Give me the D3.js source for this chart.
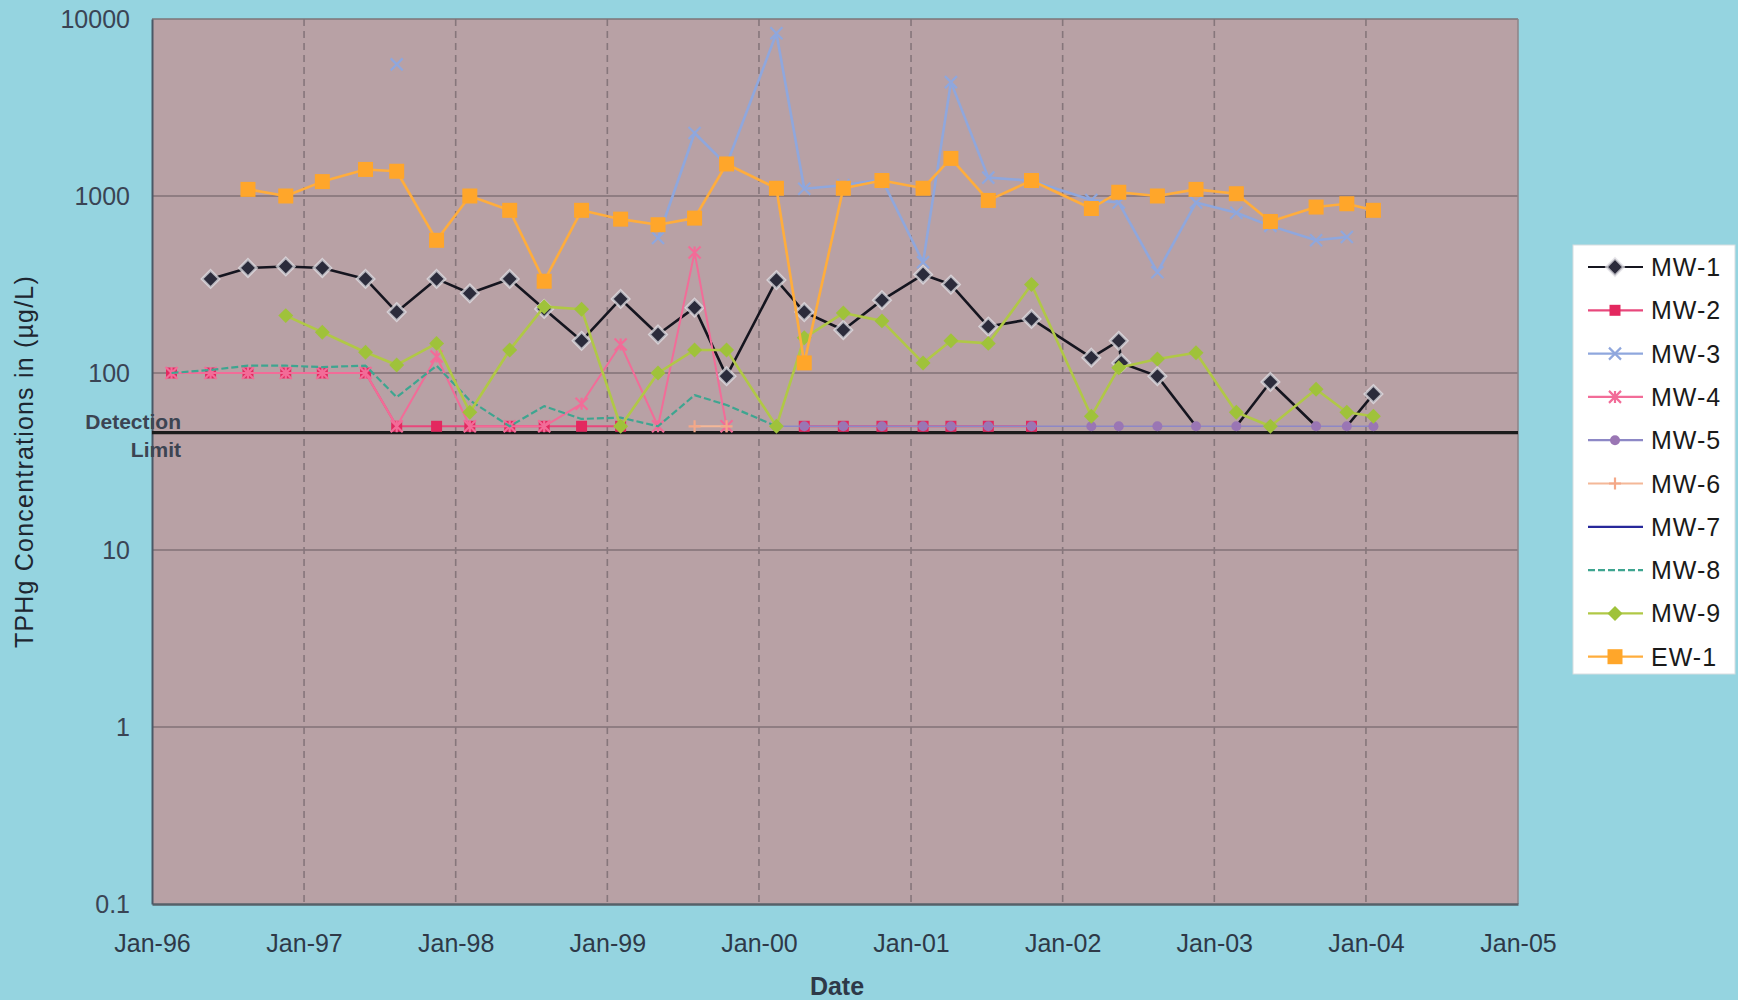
<!DOCTYPE html>
<html>
<head>
<meta charset="utf-8">
<script src="https://cdn.jsdelivr.net/npm/d3@7"></script>
<style>
	body { margin: 0; background: #95d4e0; }
	svg { display: block; font-family: "Liberation Sans", Arial, Helvetica, sans-serif; }
</style>
</head>
<body>
<svg id="chart" width="1738" height="1000"></svg>
<script>
// sampling dates (one column per monitoring event)
var sampleDates = [
	"1996-02-17", "1996-05-21", "1996-08-19", "1996-11-18", "1997-02-14", "1997-05-29",
	"1997-08-12", "1997-11-16", "1998-02-04", "1998-05-11", "1998-08-02", "1998-10-31",
	"1999-02-02", "1999-05-03", "1999-07-30", "1999-10-15", "2000-02-12", "2000-04-19",
	"2000-07-22", "2000-10-23", "2001-01-30", "2001-04-07", "2001-07-06", "2001-10-18",
	"2002-03-11", "2002-05-16", "2002-05-22", "2002-08-17", "2002-11-18", "2003-02-23",
	"2003-05-16", "2003-09-03", "2003-11-16", "2004-01-19"
];

// TPHg in ug/L, null = not sampled; 50 = non-detect
var mw1 = [null, 340, 392, 400, 392, 340, 221, 340, 282, 340, 230, 152, 262, 165, 234, 96, 335, 221,
	175, 258, 360, 316, 183, 202, 122, 152, 114, 96, 50, 50, 89, 50, 50, 76];
var mw2 = [100, 100, 100, 100, 100, 100, 50, 50, 50, 50, 50, 50, 50, null, null, null, null, 50,
	50, 50, 50, 50, 50, 50, null, null, null, null, null, null, null, null, null, null];
var mw3 = [null, null, null, null, null, null, 5540, null, null, null, null, null, null, 579, 2270, 1500, 8300, 1100,
	1150, 1240, 422, 4400, 1270, 1220, 950, 918, null, 371, 918, 805, 678, 562, 587, null];
var mw4 = [100, 100, 100, 100, 100, 100, 50, 124, 50, 50, 50, 67, 145, 50, 480, 50, null, null,
	null, null, null, null, null, null, null, null, null, null, null, null, null, null, null, null];
var mw5 = [null, null, null, null, null, null, null, null, null, null, null, null, null, null, null, null, 50, 50,
	50, 50, 50, 50, 50, 50, 50, 50, null, 50, 50, 50, 50, 50, 50, 50];
var mw6 = [null, null, null, null, null, null, null, null, null, null, null, null, null, null, 50, 50, null, null,
	null, null, null, null, null, null, null, null, null, null, null, null, null, null, null, null];
var mw7 = [null, null, null, null, null, null, null, null, null, null, null, null, null, null, null, null, null, null,
	null, null, null, null, null, null, null, null, null, null, null, null, null, null, null, null];
var mw8 = [100, 104, 110, 110, 108, 110, 73, 110, 70, 50, 65, 55, 56, 50, 75, 66, 50, null,
	null, null, null, null, null, null, null, null, null, null, null, null, null, null, null, null];
var mw9 = [null, null, null, 211, 170, 131, 111, 147, 60, 135, 237, 229, 50, 100, 135, 135, 50, 158,
	218, 197, 114, 152, 147, 316, 57, 107, null, 120, 130, 60, 50, 81, 60, 57];
var ew1 = [null, null, 1090, 1000, 1206, 1413, 1380, 562, 1000, 830, 330, 830, 740, 688, 750, 1517, 1106, 114,
	1106, 1223, 1106, 1631, 944, 1223, 850, 1050, null, 1000, 1090, 1030, 718, 866, 904, 830];

var seriesNames = ["MW-1", "MW-2", "MW-3", "MW-4", "MW-5", "MW-6", "MW-7", "MW-8", "MW-9", "EW-1"];
var seriesValues = [mw1, mw2, mw3, mw4, mw5, mw6, mw7, mw8, mw9, ew1];

var yTicks = [0.1, 1, 10, 100, 1000, 10000];
var xTickYears = [1996, 1997, 1998, 1999, 2000, 2001, 2002, 2003, 2004, 2005];
var detectionLimit = 46;
var ndValue = 50;
var maxGap = 3; // more missing events than this breaks the line

// look of each series
var styles = {
	"MW-1": { line: "#15151f", width: 2.6, marker: "diamond", size: 15, fill: "#2b2b3b", halo: "rgba(226,224,230,0.75)", hideNd: true },
	"MW-2": { line: "#e8487c", width: 2, marker: "square", size: 11, fill: "#e3285f" },
	"MW-3": { line: "#8fa7dd", width: 2.6, marker: "x", size: 12, fill: "#8fa7dd" },
	"MW-4": { line: "#f26c98", width: 2, marker: "asterisk", size: 12, fill: "#f26c98" },
	"MW-5": { line: "#8d88c6", width: 1.5, marker: "circle", size: 10, fill: "#9a76b4" },
	"MW-6": { line: "#f4b898", width: 2, marker: "plus", size: 12, fill: "#f4a888" },
	"MW-7": { line: "#27289a", width: 2, marker: "none" },
	"MW-8": { line: "#3ea590", width: 2.2, marker: "none", dash: "7,3" },
	"MW-9": { line: "#b0c846", width: 2.6, marker: "diamond", size: 13, fill: "#9fc23a" },
	"EW-1": { line: "#ffad3c", width: 2.6, marker: "square", size: 15, fill: "#ffa62a" }
};

var svg = d3.select("#chart");
var plotLeft = 152, plotRight = 1518, plotTop = 19, plotBottom = 904;

var x = d3.scaleTime().domain([new Date(1996, 0, 1), new Date(2005, 0, 1)]).range([plotLeft, plotRight]);
var y = d3.scaleLog().domain([0.1, 10000]).range([plotBottom, plotTop]);
var parse = d3.timeParse("%Y-%m-%d");
var dates = sampleDates.map(parse);

// plot area
svg.append("rect")
	.attr("x", plotLeft).attr("y", plotTop)
	.attr("width", plotRight - plotLeft).attr("height", plotBottom - plotTop)
	.attr("fill", "#b8a1a5");

// horizontal grid (decades)
svg.append("g").selectAll("line")
	.data(yTicks.slice(1, -1))
	.enter().append("line")
	.attr("x1", plotLeft).attr("x2", plotRight)
	.attr("y1", function (d) { return y(d); })
	.attr("y2", function (d) { return y(d); })
	.attr("stroke", "#8f7d82")
	.attr("stroke-width", 2);

// vertical grid (years), dashed
svg.append("g").selectAll("line")
	.data(xTickYears.slice(1, -1))
	.enter().append("line")
	.attr("x1", function (d) { return x(new Date(d, 0, 1)); })
	.attr("x2", function (d) { return x(new Date(d, 0, 1)); })
	.attr("y1", plotTop).attr("y2", plotBottom)
	.attr("stroke", "#86767b")
	.attr("stroke-width", 1.6)
	.attr("stroke-dasharray", "7,5");

// border
svg.append("line").attr("x1", plotLeft).attr("x2", plotRight).attr("y1", plotTop).attr("y2", plotTop)
	.attr("stroke", "#7c7479").attr("stroke-width", 1.5);
svg.append("line").attr("x1", plotRight).attr("x2", plotRight).attr("y1", plotTop).attr("y2", plotBottom)
	.attr("stroke", "#8c8488").attr("stroke-width", 1.5);

// axes
var xAxis = svg.append("g")
	.attr("transform", "translate(0," + plotBottom + ")")
	.call(d3.axisBottom(x)
		.tickValues(xTickYears.map(function (d) { return new Date(d, 0, 1); }))
		.tickFormat(d3.timeFormat("%b-%y"))
		.tickSize(0).tickPadding(30));
xAxis.select(".domain").attr("stroke", "#566068").attr("stroke-width", 2.5);
xAxis.selectAll("text").attr("font-size", 25).attr("fill", "#2e3948");

var yAxis = svg.append("g")
	.attr("transform", "translate(" + plotLeft + ",0)")
	.call(d3.axisLeft(y)
		.tickValues(yTicks)
		.tickFormat(d3.format("~g"))
		.tickSize(0).tickPadding(22));
yAxis.select(".domain").attr("stroke", "#4a5866").attr("stroke-width", 2);
yAxis.selectAll("text").attr("font-size", 25).attr("fill", "#3a4454");

// axis titles
svg.append("text")
	.attr("transform", "translate(24," + (plotTop + plotBottom) / 2 + ") rotate(-90)")
	.attr("text-anchor", "middle")
	.attr("dominant-baseline", "central")
	.attr("font-size", 25)
	.attr("letter-spacing", 1.2)
	.attr("fill", "#1e2630")
	.text("TPHg Concentrations in (\u00b5g/L)");

svg.append("text")
	.attr("x", 837).attr("y", 995)
	.attr("text-anchor", "middle")
	.attr("font-size", 25).attr("font-weight", "bold")
	.attr("fill", "#2e3948")
	.text("Date");

// marker shapes
function markerPath(type, s) {
	var h = s / 2;
	if (type === "square") return "M" + -h + "," + -h + "h" + s + "v" + s + "h" + -s + "Z";
	if (type === "diamond") return "M0," + -h * 1.15 + "L" + h * 1.15 + ",0L0," + h * 1.15 + "L" + -h * 1.15 + ",0Z";
	if (type === "circle") return d3.symbol().type(d3.symbolCircle).size(Math.PI * h * h)();
	if (type === "x") return "M" + -h + "," + -h + "L" + h + "," + h + "M" + h + "," + -h + "L" + -h + "," + h;
	if (type === "plus") return "M0," + -h + "V" + h + "M" + -h + ",0H" + h;
	if (type === "asterisk") return "M" + -h + "," + -h + "L" + h + "," + h + "M" + h + "," + -h + "L" + -h + "," + h + "M0," + -h + "V" + h;
	return null;
}
function isStroke(type) { return type === "x" || type === "plus" || type === "asterisk"; }

function drawMarker(g, st, cx, cy) {
	if (st.marker === "none") return;
	var p = g.append("path")
		.attr("transform", "translate(" + cx + "," + cy + ")")
		.attr("d", markerPath(st.marker, st.size));
	if (isStroke(st.marker)) {
		p.attr("fill", "none").attr("stroke", st.fill).attr("stroke-width", 2.2);
	} else {
		p.attr("fill", st.fill);
		if (st.halo) p.attr("stroke", st.halo).attr("stroke-width", 2.5);
	}
}

// detection limit line
svg.append("line")
	.attr("x1", plotLeft).attr("x2", plotRight)
	.attr("y1", y(detectionLimit)).attr("y2", y(detectionLimit))
	.attr("stroke", "#1c1c1c").attr("stroke-width", 3.2);

svg.append("text")
	.attr("x", 181).attr("y", 429)
	.attr("text-anchor", "end")
	.attr("font-size", 21).attr("font-weight", "bold")
	.attr("fill", "#3c4452")
	.text("Detection");
svg.append("text")
	.attr("x", 181).attr("y", 457)
	.attr("text-anchor", "end")
	.attr("font-size", 21).attr("font-weight", "bold")
	.attr("fill", "#3c4452")
	.text("Limit");

// series
var line = d3.line()
	.x(function (d) { return x(d.date); })
	.y(function (d) { return y(d.v); });

seriesNames.forEach(function (name, i) {
	var st = styles[name];
	var pts = [];
	seriesValues[i].forEach(function (v, j) {
		if (v != null) pts.push({ date: dates[j], v: v, idx: j });
	});

	// split into segments: a long run of missing events breaks the line;
	// for hideNd series, the stretch between two non-detects is not drawn
	var segs = [];
	var cur = [];
	pts.forEach(function (p, k) {
		var prev = pts[k - 1];
		var brk = prev && (p.idx - prev.idx > maxGap ||
			(st.hideNd && prev.v <= ndValue && p.v <= ndValue));
		if (brk) { segs.push(cur); cur = []; }
		cur.push(p);
	});
	if (cur.length) segs.push(cur);

	var g = svg.append("g").attr("class", "series");
	g.selectAll("path.ln")
		.data(segs.filter(function (s) { return s.length > 1; }))
		.enter().append("path")
		.attr("class", "ln")
		.attr("d", line)
		.attr("fill", "none")
		.attr("stroke", st.line)
		.attr("stroke-width", st.width)
		.attr("stroke-dasharray", st.dash || null)
		.attr("stroke-linejoin", "round");
	pts.forEach(function (d) {
		if (st.hideNd && d.v <= ndValue) return;
		drawMarker(g, st, x(d.date), y(d.v));
	});
});

// legend
var legend = svg.append("g");
legend.append("rect")
	.attr("x", 1573).attr("y", 245)
	.attr("width", 162).attr("height", 429)
	.attr("fill", "#ffffff")
	.attr("stroke", "#d8dde0").attr("stroke-width", 1);

seriesNames.forEach(function (name, i) {
	var st = styles[name];
	var cy = 267 + i * 43.3;
	legend.append("line")
		.attr("x1", 1588).attr("x2", 1643)
		.attr("y1", cy).attr("y2", cy)
		.attr("stroke", st.line).attr("stroke-width", 2.2)
		.attr("stroke-dasharray", st.dash || null);
	drawMarker(legend, st, 1615, cy);
	legend.append("text")
		.attr("x", 1651).attr("y", cy)
		.attr("dominant-baseline", "central")
		.attr("font-size", 25)
		.attr("letter-spacing", 1)
		.attr("fill", "#1a1a1a")
		.text(name);
});
</script>
</body>
</html>
